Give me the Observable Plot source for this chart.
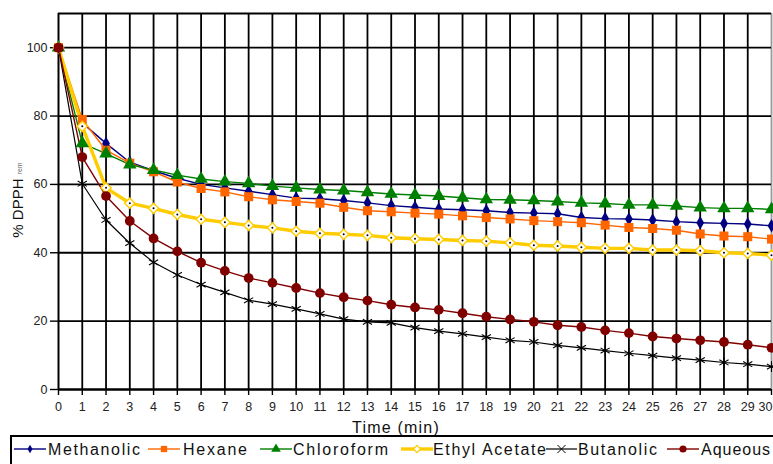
<!DOCTYPE html>
<html><head><meta charset="utf-8">
<script src="https://cdn.jsdelivr.net/npm/d3@7"></script>
<script src="https://cdn.jsdelivr.net/npm/@observablehq/plot@0.6"></script>
<style>
body{margin:0;background:#fff;font-family:"Liberation Sans",Arial,sans-serif;}
#chart{position:absolute;left:0;top:0;}
#legend{position:absolute;left:0;top:434px;}
</style></head><body><div id="chart"></div><div id="legend"></div>
<script>
const times = [0,1,2,3,4,5,6,7,8,9,10,11,12,13,14,15,16,17,18,19,20,21,22,23,24,25,26,27,28,29,30];
const seriesNames = ["Methanolic","Hexane","Chloroform","Ethyl Acetate","Butanolic","Aqueous"];
const methanolic = [100,78,72,66.5,64,61.8,60,59,58,57,56,55.8,55.3,54.6,53.8,53.3,52.8,52.6,52.3,51.8,51.6,51.4,50.3,50,49.9,49.6,49.1,48.8,48.6,48.4,47.9];
const hexane = [100,79,70,66.2,63.7,60.7,58.8,57.8,56.4,55.5,55,54.5,53.3,52.3,52,51.6,51.3,50.8,50.3,49.9,49.4,49.1,48.8,48.1,47.4,47.1,46.6,45.5,44.9,44.7,44];
const chloroform = [100,72,69,65.8,64.2,62.7,61.6,60.8,60.3,59.5,59,58.5,58.2,57.7,57.2,56.9,56.6,56.1,55.6,55.5,55.3,55,54.6,54.4,54,54,53.7,53.2,53,53,52.7];
const ethylAcetate = [100,77,59,54.5,53,51.2,49.8,48.9,48,47.3,46.3,45.7,45.4,45.1,44.4,44.1,43.9,43.6,43.4,42.9,42.2,42,41.6,41.3,41.3,40.8,40.8,40.6,40,39.8,39.3];
const butanolic = [100,60.2,49.6,42.8,37.2,33.5,30.7,28.4,26.1,25,23.6,22.1,20.6,19.8,19.5,18.1,17.1,16.3,15.3,14.4,13.9,12.9,12.2,11.4,10.6,9.9,9.2,8.6,7.9,7.4,6.7];
const aqueous = [100,68,56.6,49.3,44.2,40.4,37.1,34.7,32.6,31.2,29.7,28.2,27,26,24.8,24,23.3,22.3,21.3,20.5,19.8,18.8,18.3,17.3,16.5,15.5,14.9,14.4,13.9,13.1,12.2];
const yTicks = [0,20,40,60,80,100];
const xTicks = times;
const yTop = 110;

const valuesBySeries = [methanolic, hexane, chloroform, ethylAcetate, butanolic, aqueous];
const styles = {
  "Methanolic":   {color:"#000080", symbol:"diamond", fill:"#000080", r:4.1, sw:1.4},
  "Hexane":       {color:"#ff6600", symbol:"square", fill:"#ff6600", r:5.1, sw:1.4},
  "Chloroform":   {color:"#008000", symbol:"triangle", fill:"#008000", r:5.0, sw:1.4},
  "Ethyl Acetate":{color:"#ffcc00", symbol:"diamond2", fill:"#ffffff", r:4.6, sw:3.4},
  "Butanolic":    {color:"#000000", symbol:"asterisk", fill:"none", r:5.0, sw:1.2},
  "Aqueous":      {color:"#800000", symbol:"circle", fill:"#800000", r:4.9, sw:1.4}
};
const table = [];
seriesNames.forEach((s,i)=>times.forEach((t,j)=>table.push({series:s, t, v:valuesBySeries[i][j]})));

const marks = [
  Plot.gridX(xTicks.filter(d=>d>0 && d<30), {stroke:"#000", strokeOpacity:1, strokeWidth:1.8}),
  Plot.gridX([30], {stroke:"#9a9a9a", strokeOpacity:1, strokeWidth:1.8}),
  Plot.gridY(yTicks.filter(d=>d>0), {stroke:"#000", strokeOpacity:1, strokeWidth:1.8}),
  Plot.ruleY([yTop], {stroke:"#000", strokeWidth:2}),
  Plot.ruleX([0], {stroke:"#000", strokeWidth:2}),
  Plot.ruleY([0], {stroke:"#000", strokeWidth:2.6}),
  Plot.axisX({ticks:xTicks, tickSize:6, tickPadding:7, tickFormat:d=>String(d), label:null, fontSize:12.5, stroke:"#000", strokeWidth:1.4}),
  Plot.axisY({ticks:yTicks, tickSize:8, tickPadding:3, tickFormat:d=>String(d), label:null, fontSize:12.5, stroke:"#000", strokeWidth:1.4})
];
seriesNames.forEach(s=>{
  const st = styles[s];
  const d = table.filter(r=>r.series===s);
  marks.push(Plot.line(d, {x:"t", y:"v", stroke:st.color, strokeWidth:st.sw}));
});
seriesNames.forEach(s=>{
  const st = styles[s];
  const d = table.filter(r=>r.series===s);
  if (s==="Ethyl Acetate") {
    marks.push(Plot.dot(d, {x:"t", y:"v", symbol:()=>st.symbol, r:st.r, stroke:st.color, fill:"#fff", strokeWidth:1.4}));
    marks.push(Plot.dot(d, {x:"t", y:"v", r:1, fill:"#000", stroke:"none"}));
  } else if (s==="Butanolic") {
    marks.push(Plot.dot(d, {x:"t", y:"v", symbol:()=>st.symbol, r:st.r, stroke:st.color, fill:"none", strokeWidth:1.1}));
  } else {
    marks.push(Plot.dot(d, {x:"t", y:"v", symbol:()=>st.symbol, r:st.r, fill:st.fill, stroke:"none"}));
  }
});

const chart = Plot.plot({
  width:773, height:436,
  marginLeft:58, marginRight:2, marginTop:13, marginBottom:47,
  x:{type:"linear", domain:[0,30]},
  y:{domain:[0,yTop]},
  style:{fontFamily:"'Liberation Sans', Arial, sans-serif", fontSize:"12.5px", color:"#222", background:"#fff", overflow:"visible"},
  marks
});
document.getElementById("chart").appendChild(chart);

const svg = d3.select(chart);
// keep the last x tick label inside the picture
svg.selectAll("text").filter(function(){ return this.textContent === "30"; })
  .attr("text-anchor","end").attr("dx", 1);
// axis titles
svg.append("text").attr("x",396).attr("y",433).attr("text-anchor","middle")
  .attr("font-size",16).attr("letter-spacing",1.2).attr("fill","#111").text("Time (min)");
const yl = svg.append("text").attr("transform","translate(23,200) rotate(-90)").attr("text-anchor","middle")
  .attr("font-size",15).attr("fill","#111");
yl.append("tspan").text("% DPPH ");
yl.append("tspan").attr("font-size",7).attr("fill","#666").attr("dy",-1).text("rem");

// legend
const legendItems = [
  {name:"Methanolic", x0:14, x1:46, tx:48, tw:92},
  {name:"Hexane", x0:148, x1:180, tx:183, tw:64},
  {name:"Chloroform", x0:260, x1:292, tx:293, tw:95},
  {name:"Ethyl Acetate", x0:401, x1:433, tx:433, tw:113},
  {name:"Butanolic", x0:546, x1:577, tx:578, tw:79},
  {name:"Aqueous", x0:667, x1:699, tx:701, tw:69}
];
const lg = d3.select("#legend").append("svg").attr("width",773).attr("height",30);
lg.append("rect").attr("x",11).attr("y",2).attr("width",780).attr("height",40).attr("fill","#fff").attr("stroke","#000").attr("stroke-width",2);
legendItems.forEach(it=>{
  const st = styles[it.name];
  const cy = 15;
  lg.append("line").attr("x1",it.x0).attr("x2",it.x1).attr("y1",cy).attr("y2",cy).attr("stroke",st.color).attr("stroke-width",st.sw);
  const cx = (it.x0+it.x1)/2;
  if (it.name==="Butanolic") {
    lg.append("path").attr("d",`M${cx-4},${cy-4}L${cx+4},${cy+4}M${cx-4},${cy+4}L${cx+4},${cy-4}`).attr("stroke","#000").attr("stroke-width",1);
  } else if (it.name==="Ethyl Acetate") {
    lg.append("path").attr("transform",`translate(${cx},${cy}) rotate(45)`).attr("d","M-2.5,-2.5h5v5h-5z").attr("fill","#fff").attr("stroke",st.color).attr("stroke-width",1.2);
  } else {
    const sym = {diamond:d3.symbolDiamond, square:d3.symbolSquare, triangle:d3.symbolTriangle, circle:d3.symbolCircle}[st.symbol];
    lg.append("path").attr("transform",`translate(${cx},${cy})`).attr("d",d3.symbol(sym, it.name==="Methanolic"?22:40)()).attr("fill",st.color);
  }
  lg.append("text").attr("x",it.tx).attr("y",cy+6).attr("font-size",16).attr("fill","#111")
    .attr("textLength",it.tw).attr("lengthAdjust","spacing").text(it.name);
});
</script></body></html>
